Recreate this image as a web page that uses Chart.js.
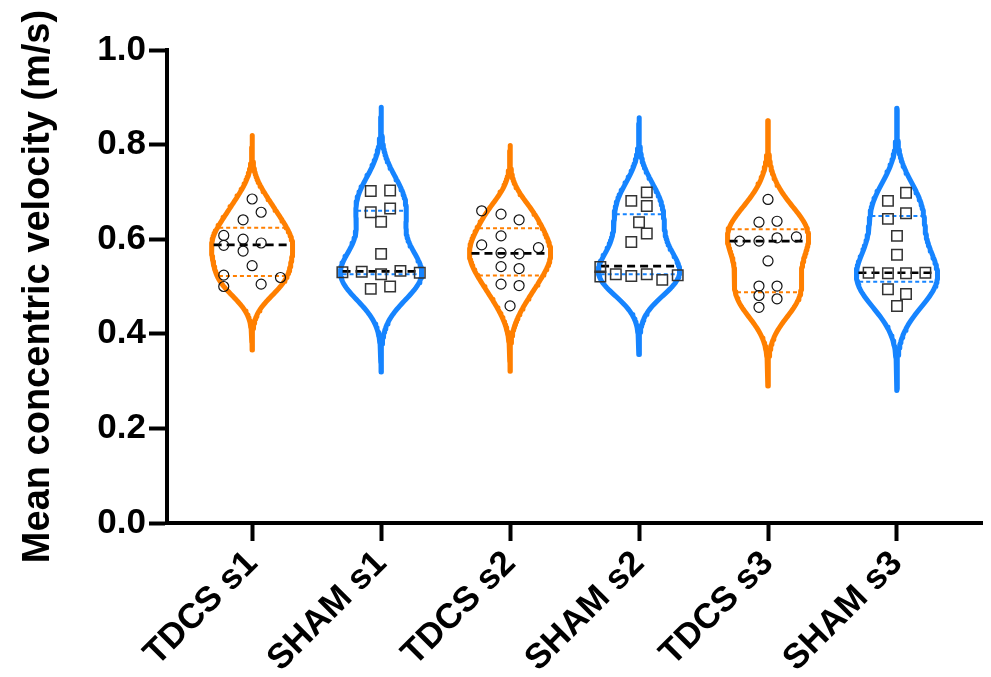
<!DOCTYPE html>
<html>
<head>
<meta charset="utf-8">
<script src="https://cdn.jsdelivr.net/npm/chart.js@4.4.1/dist/chart.umd.min.js"></script>
<style>
  html, body { margin: 0; padding: 0; background: #fff; }
  #wrap { width: 991px; height: 677px; }
</style>
</head>
<body>
<div id="wrap"><canvas id="chart"></canvas></div>
<script>
// groups along the x axis
const groups = ['TDCS s1', 'SHAM s1', 'TDCS s2', 'SHAM s2', 'TDCS s3', 'SHAM s3'];

// individual values (m/s)
const tdcsS1 = [0.685, 0.657, 0.641, 0.608, 0.587, 0.600, 0.592, 0.575, 0.544, 0.524, 0.500, 0.505, 0.519];
const shamS1 = [0.702, 0.703, 0.657, 0.665, 0.637, 0.569, 0.530, 0.531, 0.526, 0.533, 0.529, 0.495, 0.500];
const tdcsS2 = [0.660, 0.653, 0.641, 0.607, 0.588, 0.582, 0.571, 0.569, 0.542, 0.538, 0.505, 0.502, 0.459];
const shamS2 = [0.699, 0.681, 0.670, 0.636, 0.612, 0.594, 0.541, 0.521, 0.526, 0.522, 0.526, 0.514, 0.524];
const tdcsS3 = [0.684, 0.636, 0.638, 0.596, 0.596, 0.603, 0.605, 0.554, 0.501, 0.501, 0.481, 0.474, 0.456];
const shamS3 = [0.698, 0.681, 0.655, 0.643, 0.607, 0.567, 0.529, 0.528, 0.528, 0.529, 0.494, 0.484, 0.459];

// horizontal spread of each point inside its violin (in category widths)
const tdcsS1Spread = [0, 0.07, -0.07, -0.22, -0.22, -0.07, 0.07, -0.07, 0, -0.22, -0.22, 0.07, 0.22];
const shamS1Spread = [-0.08, 0.07, -0.08, 0.07, 0, 0, -0.30, -0.15, 0, 0.15, 0.30, -0.08, 0.07];
const tdcsS2Spread = [-0.22, -0.07, 0.07, -0.07, -0.22, 0.22, -0.07, 0.07, -0.07, 0.07, -0.07, 0.07, 0];
const shamS2Spread = [0.06, -0.06, 0.06, 0, 0.06, -0.06, -0.30, -0.30, -0.18, -0.06, 0.06, 0.18, 0.30];
const tdcsS3Spread = [0, -0.07, 0.07, -0.22, -0.07, 0.07, 0.22, 0, -0.07, 0.07, -0.07, 0.07, -0.07];
const shamS3Spread = [0.07, -0.07, 0.07, -0.07, 0, 0, -0.22, -0.07, 0.07, 0.22, -0.07, 0.07, 0];

// median and quartile lines drawn across each violin
const medians = [0.588, 0.532, 0.570, 0.543, 0.596, 0.529];
const lowerQuartiles = [0.522, 0.526, 0.523, 0.526, 0.488, 0.510];
const upperQuartiles = [0.624, 0.660, 0.623, 0.653, 0.621, 0.649];

const yTicks = [0, 0.2, 0.4, 0.6, 0.8, 1.0];

const allValues = [tdcsS1, shamS1, tdcsS2, shamS2, tdcsS3, shamS3];
const allSpread = [tdcsS1Spread, shamS1Spread, tdcsS2Spread, shamS2Spread, tdcsS3Spread, shamS3Spread];

const ORANGE = '#FF7F00';
const BLUE = '#1684FF';
const FONT = '"Liberation Sans", Arial, Helvetica, sans-serif';
const HALF_WIDTH = 0.315; // widest part of every violin, in category widths

// gaussian kernel density of the points, scaled so that the widest point is 1
function makeDensity(vals) {
    const n = vals.length;
    const mean = vals.reduce((a, b) => a + b, 0) / n;
    const sd = Math.sqrt(vals.reduce((a, b) => a + (b - mean) * (b - mean), 0) / (n - 1));
    const h = 0.65 * sd;
    const raw = y => vals.reduce((s, v) => s + Math.exp(-0.5 * ((y - v) / h) ** 2), 0);
    // the outline runs a little past the data on both ends
    const lo = Math.min(...vals) - 2.26 * sd;
    const hi = Math.max(...vals) + 2.26 * sd;
    let peak = 0;
    for (let i = 0; i <= 200; i++) {
        peak = Math.max(peak, raw(lo + (hi - lo) * i / 200));
    }
    return { lo, hi, at: y => raw(y) / peak };
}

function violinOutline(vals, center) {
    const d = makeDensity(vals);
    const steps = 160;
    const right = [];
    const left = [];
    for (let i = 0; i <= steps; i++) {
        const y = d.lo + (d.hi - d.lo) * i / steps;
        const w = d.at(y) * HALF_WIDTH;
        right.push({ x: center + w, y: y });
        left.unshift({ x: center - w, y: y });
    }
    return { points: right.concat(left), density: d };
}

const datasets = [];

allValues.forEach((vals, i) => {
    const color = i % 2 === 0 ? ORANGE : BLUE;
    const isTdcs = i % 2 === 0;
    const v = violinOutline(vals, i);

    // points
    datasets.push({
        type: 'scatter',
        data: vals.map((y, k) => ({ x: i + allSpread[i][k], y: y })),
        pointStyle: isTdcs ? 'circle' : 'rect',
        pointRadius: isTdcs ? 5 : 7.4,
        pointBorderWidth: isTdcs ? 1.2 : 1.5,
        pointBorderColor: isTdcs ? '#111' : '#333',
        pointBackgroundColor: 'rgba(0,0,0,0)',
        showLine: false,
        order: 0
    });

    // median line
    const wm = v.density.at(medians[i]) * HALF_WIDTH * 0.95;
    datasets.push({
        type: 'scatter',
        data: [{ x: i - wm, y: medians[i] }, { x: i + wm, y: medians[i] }],
        showLine: true,
        borderColor: '#000',
        borderWidth: 2.6,
        borderDash: [8, 5],
        pointRadius: 0,
        order: 1
    });

    // quartile lines
    [lowerQuartiles[i], upperQuartiles[i]].forEach(q => {
        const wq = v.density.at(q) * HALF_WIDTH * 0.95;
        datasets.push({
            type: 'scatter',
            data: [{ x: i - wq, y: q }, { x: i + wq, y: q }],
            showLine: true,
            borderColor: color,
            borderWidth: 2,
            borderDash: [4, 3],
            pointRadius: 0,
            order: 2
        });
    });

    // violin outline
    datasets.push({
        type: 'scatter',
        data: v.points,
        showLine: true,
        borderColor: color,
        borderWidth: 5,
        borderJoinStyle: 'round',
        borderCapStyle: 'round',
        pointRadius: 0,
        fill: false,
        tension: 0,
        order: 3
    });
});

new Chart(document.getElementById('chart'), {
    type: 'scatter',
    data: { datasets: datasets },
    options: {
        responsive: true,
        maintainAspectRatio: false,
        animation: false,
        layout: { padding: { left: 0, right: 3, top: 50, bottom: 0 } },
        plugins: {
            legend: { display: false },
            tooltip: { enabled: false }
        },
        scales: {
            x: {
                type: 'linear',
                min: -0.66,
                max: 5.66,
                afterBuildTicks: scale => {
                    scale.ticks = groups.map((g, i) => ({ value: i }));
                },
                afterFit: scale => { scale.height = 677 - 523; },
                border: { display: true, color: '#000', width: 4 },
                grid: { drawOnChartArea: false, drawTicks: true, tickLength: 18, tickWidth: 4, tickColor: '#000' },
                ticks: {
                    color: '#000',
                    font: { family: FONT, size: 35, weight: 'bold' },
                    minRotation: 45,
                    maxRotation: 45,
                    padding: 2,
                    callback: v => groups[v]
                }
            },
            y: {
                type: 'linear',
                min: 0,
                max: 1,
                afterBuildTicks: scale => {
                    scale.ticks = yTicks.map(t => ({ value: t }));
                },
                afterFit: scale => { scale.width = 167; },
                border: { display: true, color: '#000', width: 4 },
                grid: { drawOnChartArea: false, drawTicks: true, tickLength: 18, tickWidth: 4, tickColor: '#000' },
                ticks: {
                    color: '#000',
                    font: { family: FONT, size: 35, weight: 'bold' },
                    padding: 3,
                    callback: v => v.toFixed(1)
                },
                title: {
                    display: true,
                    text: 'Mean concentric velocity (m/s)',
                    color: '#000',
                    font: { family: FONT, size: 38, weight: 'bold' },
                    padding: { top: 16, bottom: 0 }
                }
            }
        }
    }
});
</script>
</body>
</html>
